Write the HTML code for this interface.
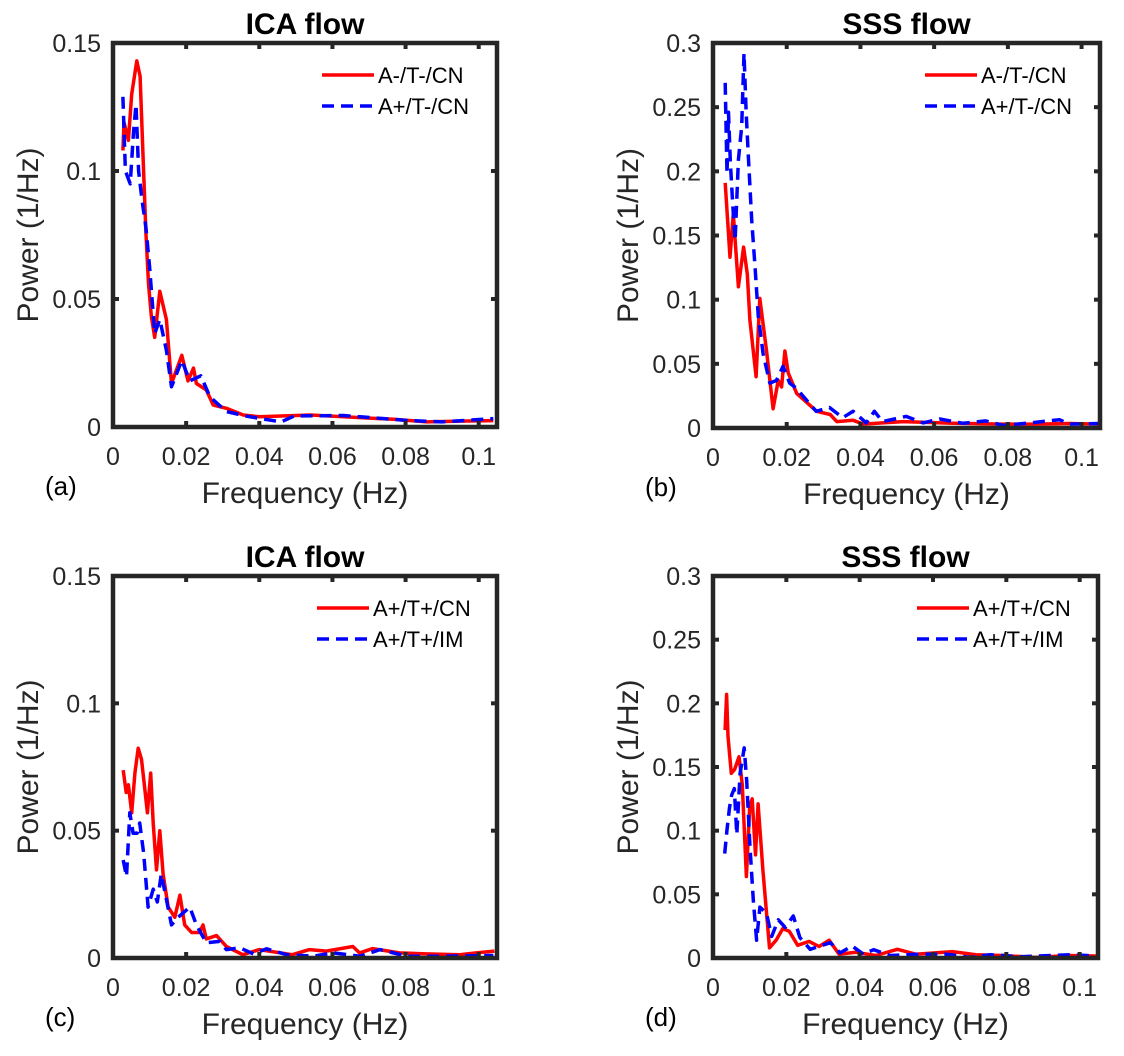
<!DOCTYPE html>
<html><head><meta charset="utf-8"><style>
body{margin:0;background:#fff}
svg{display:block;font-family:"Liberation Sans",Arial,sans-serif}
</style></head><body>
<svg id="fig" width="1124" height="1056" viewBox="0 0 1124 1056" xmlns="http://www.w3.org/2000/svg"></svg>
<script>
// ----- Panel (a) data -----
const aRedF=[0.0027,0.003,0.0042,0.0051,0.0065,0.0074,0.0083,0.009,0.0097,0.0105,0.0114,0.0128,0.0146,0.016,0.0188,0.0205,0.022,0.0228,0.0255,0.0274,0.031,0.0356,0.040,0.054,0.063,0.0767,0.0858,0.095,0.104];
const aRedV=[0.108,0.119,0.112,0.130,0.143,0.137,0.102,0.076,0.056,0.043,0.035,0.053,0.042,0.017,0.028,0.018,0.023,0.017,0.0145,0.0086,0.0073,0.0047,0.004,0.0047,0.004,0.003,0.002,0.0023,0.0025];
const aBlueF=[0.0027,0.0034,0.0047,0.0056,0.0063,0.007,0.0079,0.009,0.010,0.0114,0.0128,0.0146,0.016,0.0188,0.021,0.024,0.0265,0.031,0.0365,0.046,0.0495,0.063,0.0676,0.081,0.090,0.104];
const aBlueV=[0.129,0.100,0.095,0.115,0.126,0.100,0.089,0.078,0.0625,0.0365,0.042,0.030,0.0157,0.026,0.018,0.020,0.0118,0.006,0.0042,0.002,0.0043,0.0045,0.004,0.0025,0.002,0.0033];
// ----- Panel (b) data -----
const bRedF=[0.0033,0.0046,0.0055,0.0069,0.0083,0.0093,0.010,0.0117,0.0127,0.0145,0.0163,0.0177,0.0186,0.0195,0.0204,0.0227,0.0254,0.0281,0.0318,0.0336,0.038,0.0408,0.0516,0.0651,0.0787,0.0877,0.0967,0.1048];
const bRedV=[0.191,0.133,0.167,0.110,0.141,0.120,0.084,0.040,0.101,0.061,0.015,0.037,0.032,0.060,0.043,0.027,0.020,0.013,0.0105,0.005,0.006,0.003,0.005,0.0037,0.003,0.003,0.0035,0.003];
const bBlueF=[0.0033,0.0038,0.0042,0.0047,0.0054,0.006,0.0069,0.0078,0.0084,0.009,0.0096,0.0105,0.0114,0.0123,0.0136,0.0154,0.0172,0.019,0.0208,0.0226,0.0253,0.028,0.0316,0.0352,0.038,0.0416,0.0438,0.046,0.0524,0.057,0.0615,0.0678,0.074,0.0787,0.086,0.094,0.0967,0.1048];
const bBlueV=[0.269,0.198,0.246,0.208,0.172,0.146,0.209,0.235,0.292,0.245,0.211,0.162,0.126,0.087,0.058,0.035,0.037,0.048,0.035,0.031,0.022,0.013,0.016,0.008,0.013,0.004,0.013,0.005,0.009,0.004,0.007,0.0037,0.0055,0.002,0.004,0.0065,0.003,0.0035];
// ----- Panel (c) data -----
const cRedF=[0.0028,0.0036,0.0042,0.0051,0.006,0.0069,0.0078,0.0088,0.0094,0.0103,0.011,0.0119,0.0128,0.0137,0.0151,0.0169,0.0183,0.0196,0.0215,0.0237,0.0246,0.0255,0.0283,0.031,0.0355,0.04,0.049,0.0537,0.0583,0.0656,0.0674,0.071,0.0783,0.0856,0.0948,0.0993,0.1043];
const cRedV=[0.0738,0.065,0.068,0.057,0.0726,0.0824,0.078,0.065,0.057,0.0726,0.053,0.0346,0.050,0.033,0.020,0.016,0.0247,0.013,0.010,0.010,0.013,0.0075,0.0088,0.0045,0.0013,0.0033,0.0013,0.0033,0.0027,0.0045,0.002,0.0037,0.002,0.0016,0.0013,0.002,0.0027];
const cBlueF=[0.0028,0.0037,0.0046,0.0055,0.0066,0.0073,0.0084,0.0096,0.011,0.0121,0.0132,0.0146,0.016,0.0178,0.021,0.0228,0.0255,0.0292,0.031,0.0347,0.0384,0.042,0.0475,0.0548,0.0602,0.0675,0.073,0.0803,0.0903,0.104];
const cBlueV=[0.0385,0.032,0.057,0.049,0.049,0.053,0.041,0.020,0.027,0.022,0.033,0.023,0.013,0.016,0.020,0.013,0.006,0.0065,0.0033,0.004,0.0016,0.0036,0.0013,0.0007,0.002,0.0007,0.0033,0.0007,0.0007,0.001];
// ----- Panel (d) data -----
const dRedF=[0.0033,0.0037,0.0041,0.005,0.0059,0.0071,0.008,0.0091,0.010,0.0107,0.0116,0.0123,0.0136,0.0154,0.0172,0.019,0.0208,0.0231,0.0262,0.0289,0.0317,0.0344,0.0389,0.0444,0.0503,0.0553,0.0653,0.0717,0.0789,0.088,0.0971,0.1044];
const dRedV=[0.179,0.207,0.174,0.145,0.148,0.158,0.136,0.064,0.119,0.125,0.081,0.121,0.069,0.008,0.014,0.023,0.021,0.010,0.013,0.009,0.014,0.003,0.0045,0.002,0.0068,0.003,0.005,0.0026,0.002,0.0005,0.002,0.0016];
const dBlueF=[0.0032,0.0038,0.0045,0.0051,0.0058,0.0065,0.0074,0.0085,0.0092,0.0101,0.011,0.0119,0.0128,0.0146,0.016,0.0178,0.0197,0.0219,0.0237,0.0265,0.032,0.0347,0.0379,0.041,0.0438,0.0483,0.0565,0.0638,0.070,0.0756,0.0838,0.0975,0.1048];
const dBlueV=[0.082,0.10,0.118,0.128,0.133,0.097,0.145,0.165,0.139,0.087,0.0455,0.014,0.040,0.035,0.017,0.030,0.024,0.033,0.016,0.0068,0.012,0.004,0.0095,0.003,0.0065,0.002,0.003,0.003,0.0005,0.0026,0.001,0.0026,0.0016];

const xTicks=[0,0.02,0.04,0.06,0.08,0.1];
const xTickLabels=["0","0.02","0.04","0.06","0.08","0.1"];
const icaTicks=[0,0.05,0.1,0.15];
const icaTickLabels=["0","0.05","0.1","0.15"];
const sssTicks=[0,0.05,0.1,0.15,0.2,0.25,0.3];
const sssTickLabels=["0","0.05","0.1","0.15","0.2","0.25","0.3"];

const NS="http://www.w3.org/2000/svg";
const svg=document.getElementById('fig');
function mk(tag,attrs,parent){const e=document.createElementNS(NS,tag);for(const k in attrs)e.setAttribute(k,attrs[k]);(parent||svg).appendChild(e);return e;}

const panels=[
 {id:'a',L:113,R:497,T:43,B:427,ymax:0.15,yt:icaTicks,ytl:icaTickLabels,title:'ICA flow',
  s:[[aRedF,aRedV,'A-/T-/CN'],[aBlueF,aBlueV,'A+/T-/CN']],lx:322,ly:75},
 {id:'b',L:713,R:1100,T:43,B:428,ymax:0.3,yt:sssTicks,ytl:sssTickLabels,title:'SSS flow',
  s:[[bRedF,bRedV,'A-/T-/CN'],[bBlueF,bBlueV,'A+/T-/CN']],lx:925,ly:75},
 {id:'c',L:113,R:497,T:576,B:958,ymax:0.15,yt:icaTicks,ytl:icaTickLabels,title:'ICA flow',
  s:[[cRedF,cRedV,'A+/T+/CN'],[cBlueF,cBlueV,'A+/T+/IM']],lx:317,ly:608},
 {id:'d',L:713,R:1098,T:576,B:958,ymax:0.3,yt:sssTicks,ytl:sssTickLabels,title:'SSS flow',
  s:[[dRedF,dRedV,'A+/T+/CN'],[dBlueF,dBlueV,'A+/T+/IM']],lx:917,ly:608}
];
const xmax=0.105;
panels.forEach(p=>{
  const g=mk('g',{});
  
  
  const xs=f=>p.L+(f/xmax)*(p.R-p.L);
  const ys=v=>p.B-(v/p.ymax)*(p.B-p.T);
  p.s.forEach((s,i)=>{
    const d=s[0].map((f,j)=>(j?'L':'M')+xs(f).toFixed(1)+','+ys(s[1][j]).toFixed(1)).join(' ');
    const path=mk('path',{d:d,fill:'none',stroke:i?'#0000ff':'#ff0000','stroke-width':3.5,'stroke-linejoin':'round','stroke-dasharray':i?'12,7':'none'},g);
    
    
  });
  const box=mk('rect',{x:p.L,y:p.T,width:p.R-p.L,height:p.B-p.T,fill:'none',stroke:'#262626','stroke-width':4.5},g);
  
  
  xTicks.forEach((t,i)=>{
    const x=xs(t);
    mk('line',{x1:x,x2:x,y1:p.B,y2:p.B-6,stroke:'#262626','stroke-width':4},g);
    mk('line',{x1:x,x2:x,y1:p.T,y2:p.T+6,stroke:'#262626','stroke-width':4},g);
    const tx=mk('text',{x:x,y:p.B+38,'text-anchor':'middle','font-size':25,fill:'#262626'},g);
    tx.textContent=xTickLabels[i];
    
    
  });
  p.yt.forEach((t,i)=>{
    const y=ys(t);
    mk('line',{x1:p.L,x2:p.L+6,y1:y,y2:y,stroke:'#262626','stroke-width':4},g);
    mk('line',{x1:p.R,x2:p.R-6,y1:y,y2:y,stroke:'#262626','stroke-width':4},g);
    const ty=mk('text',{x:p.L-12,y:y+9,'text-anchor':'end','font-size':25,fill:'#262626'},g);
    ty.textContent=p.ytl[i];
    
    
  });
  const ti=mk('text',{x:(p.L+p.R)/2,y:p.T-9,'text-anchor':'middle','font-size':30,'font-weight':'bold',fill:'#000'},g);
  ti.textContent=p.title;
  
  
  const xl=mk('text',{x:(p.L+p.R)/2,y:p.B+76,'text-anchor':'middle','font-size':30,fill:'#262626'},g);
  xl.textContent='Frequency (Hz)';
  
  
  const cx=p.L-75, cy=(p.T+p.B)/2;
  const yl=mk('text',{x:cx,y:cy,'text-anchor':'middle','font-size':30,fill:'#262626',transform:'rotate(-90 '+cx+' '+cy+')'},g);
  yl.textContent='Power (1/Hz)';
  
  
  const lt=mk('text',{x:p.L-68,y:p.B+68,'font-size':26,fill:'#000'},g);
  lt.textContent='('+p.id+')';
  
  
  p.s.forEach((s,i)=>{
    const y=p.ly+i*31;
    const ll=mk('line',{x1:p.lx,x2:p.lx+52,y1:y,y2:y,stroke:i?'#0000ff':'#ff0000','stroke-width':3.5,'stroke-dasharray':i?'12,7':'none'},g);
    
    
    const lt2=mk('text',{x:p.lx+56,y:y+8,'font-size':22,fill:'#000'},g);
    lt2.textContent=s[2];
    
    
  });
});
</script>
</body></html>
